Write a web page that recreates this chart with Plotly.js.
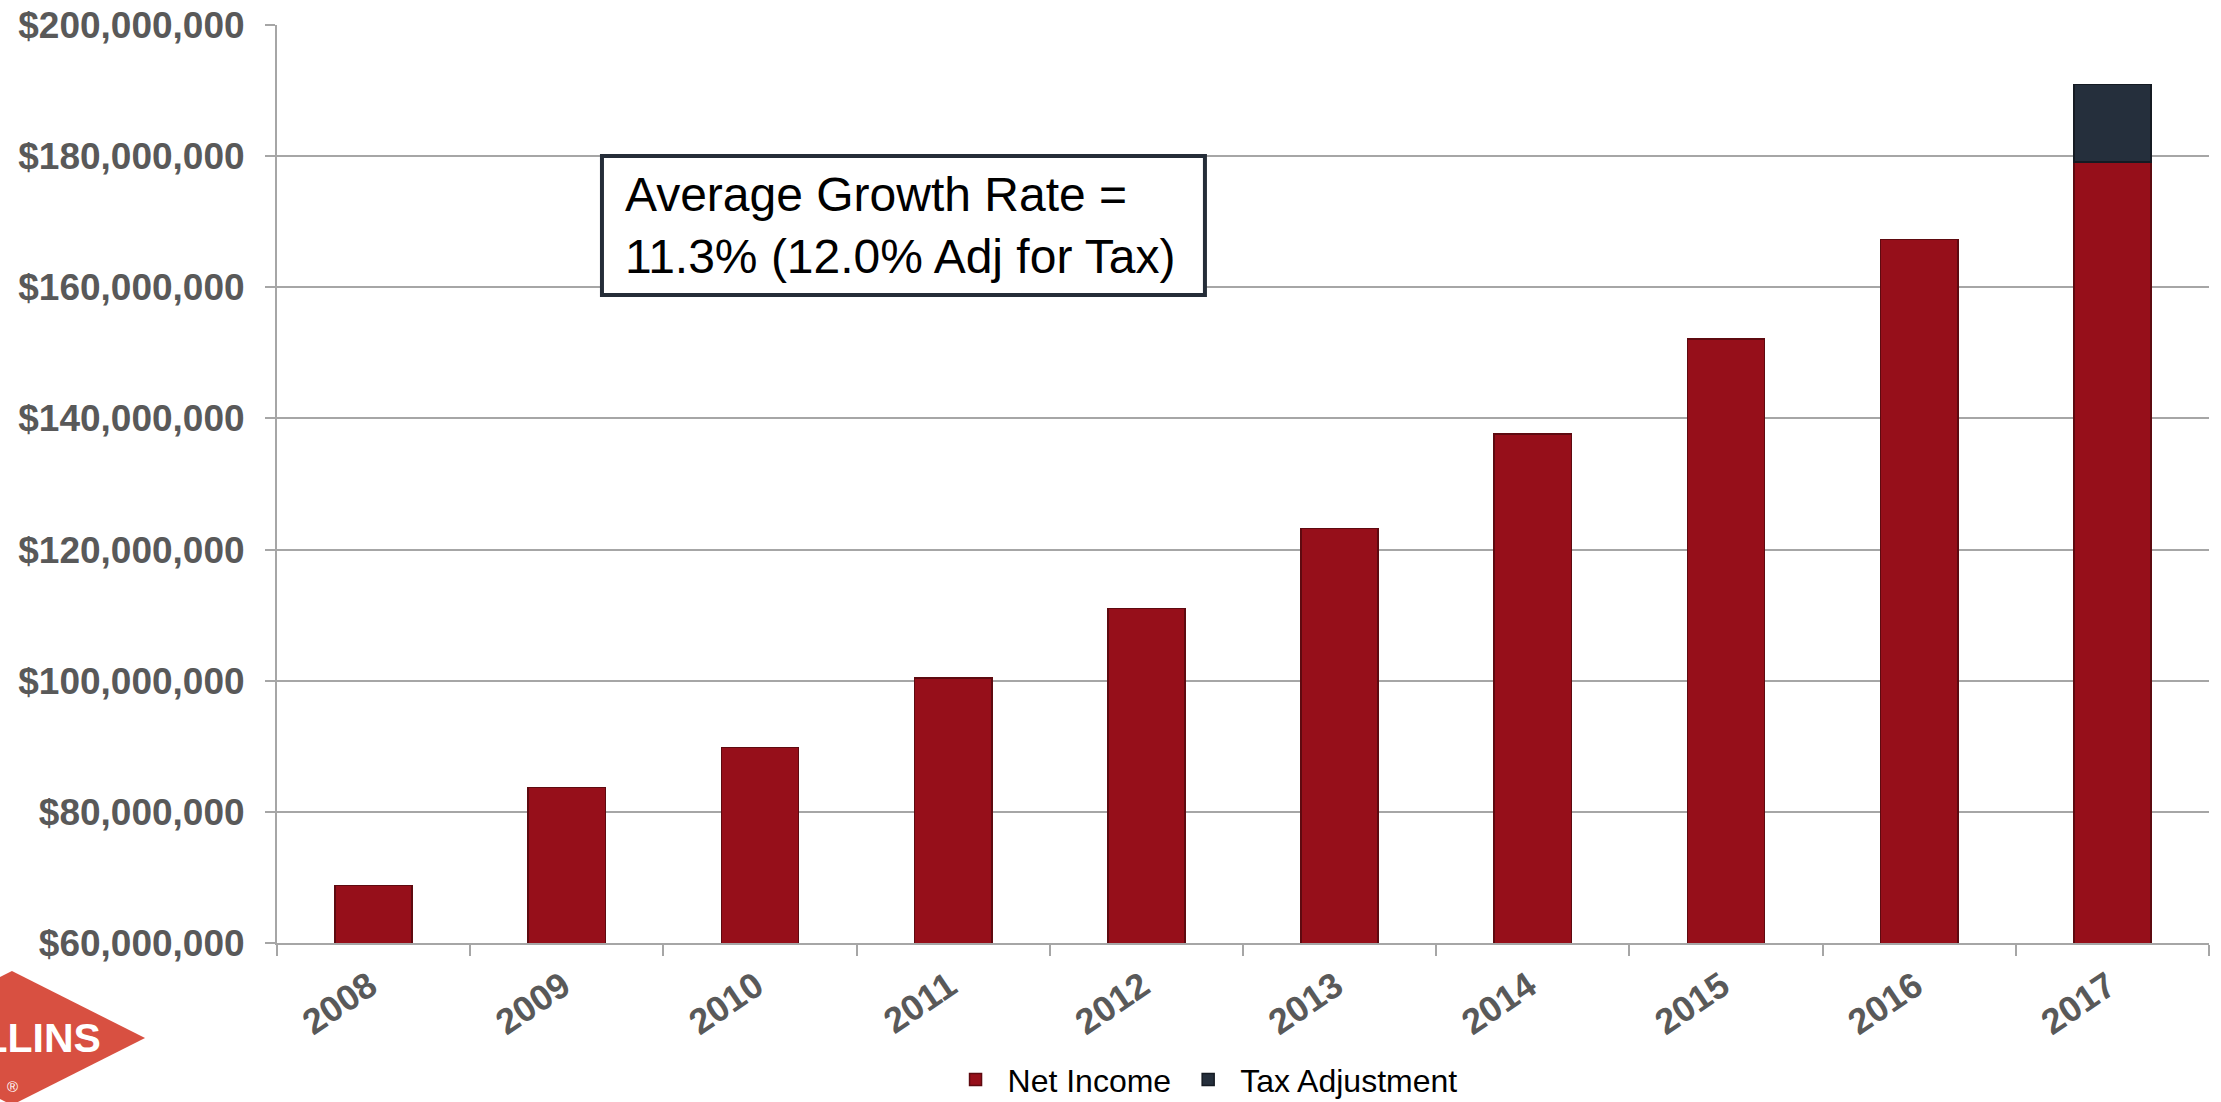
<!DOCTYPE html>
<html>
<head>
<meta charset="utf-8">
<script src="https://cdn.plot.ly/plotly-3.0.1.min.js"></script>
<style>
  html, body { margin: 0; padding: 0; background: #ffffff; }
  #chart { width: 2221px; height: 1102px; }
</style>
</head>
<body>
<div id="chart"></div>
<script>
// ---- Data ----
const years = ['2008', '2009', '2010', '2011', '2012', '2013', '2014', '2015', '2016', '2017'];
const netIncome = [68.8e6, 83.7e6, 89.8e6, 100.4e6, 111.0e6, 123.2e6, 137.6e6, 152.1e6, 167.3e6, 179.1e6];
const taxAdjustment = [null, null, null, null, null, null, null, null, null, 11.8e6];
const seriesNames = ['Net Income', 'Tax Adjustment'];
const annotationLines = ['Average Growth Rate =', '11.3% (12.0% Adj for Tax)'];
const yTickValues = [60e6, 80e6, 100e6, 120e6, 140e6, 160e6, 180e6, 200e6];

const FONT = '"Liberation Sans", Arial, Helvetica, sans-serif';
const GRID = '#a6a6a6';

const traces = [
  {
    type: 'bar',
    name: seriesNames[0],
    x: years,
    y: netIncome,
    marker: { color: '#960f1a', line: { color: '#5e0a10', width: 1.5 } },
    hoverinfo: 'skip'
  },
  {
    type: 'bar',
    name: seriesNames[1],
    x: years,
    y: taxAdjustment,
    marker: { color: '#252f3c', line: { color: '#151b23', width: 1.5 } },
    hoverinfo: 'skip'
  }
];

const layout = {
  width: 2221,
  height: 1102,
  margin: { l: 277, r: 12, t: 25, b: 159, autoexpand: false },
  paper_bgcolor: '#ffffff',
  plot_bgcolor: '#ffffff',
  barmode: 'stack',
  bargap: 0.6,
  font: { family: FONT, color: '#595959' },
  xaxis: {
    type: 'category',
    showgrid: false,
    showline: true,
    linecolor: GRID,
    linewidth: 2,
    ticks: 'outside',
    tickson: 'boundaries',
    ticklen: 11,
    tickwidth: 2,
    tickcolor: GRID,
    tickangle: -34,
    ticklabelstandoff: 6,
    ticklabelshift: -4,
    tickfont: { family: FONT, size: 36, color: '#595959', weight: 'bold' },
    automargin: false,
    zeroline: false
  },
  yaxis: {
    range: [60e6, 200e6],
    tickvals: yTickValues,
    tickformat: '$,.0f',
    showgrid: true,
    gridcolor: GRID,
    gridwidth: 2,
    showline: true,
    linecolor: GRID,
    linewidth: 2,
    ticks: 'outside',
    ticklen: 10,
    tickwidth: 2,
    tickcolor: GRID,
    ticklabelstandoff: 13,
    tickfont: { family: FONT, size: 37, color: '#595959', weight: 'bold' },
    automargin: false,
    zeroline: false
  },
  showlegend: true,
  legend: {
    orientation: 'h',
    traceorder: 'normal',
    itemwidth: 54,
    x: 0.345,
    xanchor: 'left',
    y: -0.149,
    yanchor: 'middle',
    font: { family: FONT, size: 32, color: '#000000' },
    bgcolor: 'rgba(0,0,0,0)'
  },
  shapes: [
    {
      type: 'rect', xref: 'paper', yref: 'paper',
      x0: 0.1682, x1: 0.4803, y0: 0.7059, y1: 0.8573,
      fillcolor: '#ffffff',
      line: { color: '#252d38', width: 4 },
      layer: 'above'
    },
    {
      type: 'path', xref: 'paper', yref: 'paper',
      path: 'M -0.1372 -0.0305 L -0.0683 -0.1035 L -0.1372 -0.1765 L -0.206 -0.1035 Z',
      fillcolor: '#d85041',
      line: { width: 0 },
      layer: 'above'
    }
  ],
  annotations: [
    {
      xref: 'paper', yref: 'paper',
      x: 0.1791, y: 0.7816,
      xanchor: 'left', yanchor: 'middle',
      align: 'left',
      showarrow: false,
      text: annotationLines.join('<br>'),
      font: { family: FONT, size: 48, color: '#000000' }
    },
    {
      xref: 'paper', yref: 'paper',
      x: -0.0901, y: -0.1035,
      xanchor: 'right', yanchor: 'middle',
      showarrow: false,
      text: 'ROLLINS',
      font: { family: FONT, size: 41, color: '#ffffff', weight: 'bold' }
    },
    {
      xref: 'paper', yref: 'paper',
      x: -0.1367, y: -0.1564,
      xanchor: 'center', yanchor: 'middle',
      showarrow: false,
      text: '®',
      font: { family: FONT, size: 15, color: '#ffffff' }
    }
  ]
};

Plotly.newPlot('chart', traces, layout, { staticPlot: true, displayModeBar: false });
</script>
</body>
</html>
